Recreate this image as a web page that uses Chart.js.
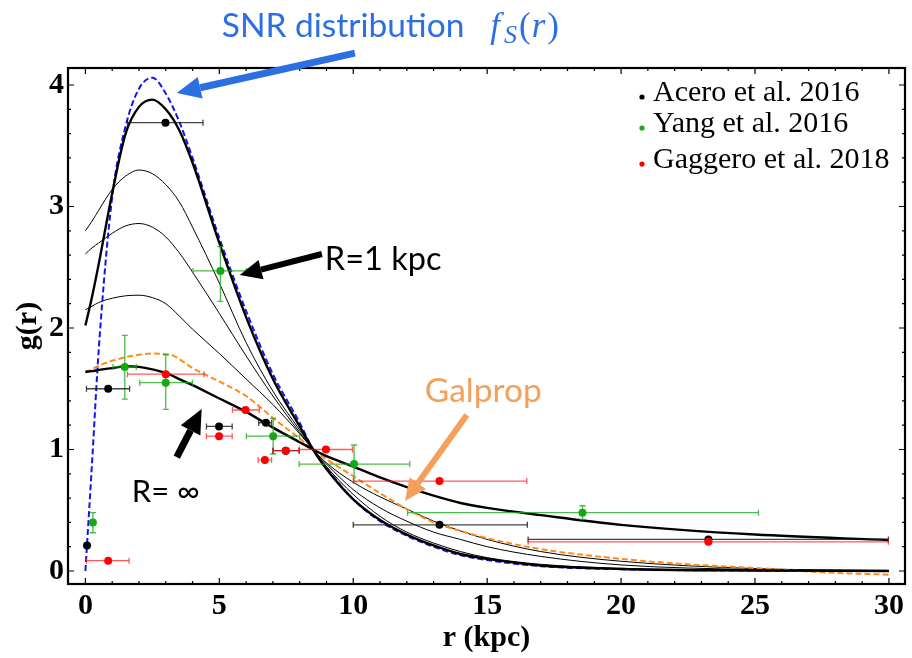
<!DOCTYPE html>
<html>
<head>
<meta charset="utf-8">
<script src="https://cdn.jsdelivr.net/npm/chart.js@4.4.1/dist/chart.umd.min.js"></script>
<style>
  html, body { margin: 0; padding: 0; background: #fff; }
  #caja { width: 912px; height: 658px; }
</style>
</head>
<body>
<div id="caja"><canvas id="grafica"></canvas></div>
<script>
// ---- datos ----
const xTicks = [0, 5, 10, 15, 20, 25, 30];
const yTicks = [0, 1, 2, 3, 4];

// radio comun para las curvas g(r)
const rGrid = [0, 0.25, 0.5, 1, 1.5, 2, 2.5, 3, 3.5, 4, 5, 6, 7, 8, 8.5, 9, 10, 11, 12, 13, 14, 15, 17, 20, 25, 30];
const gSnr   = [0, 0.9, 1.83, 3.08, 3.66, 3.97, 4.06, 3.93, 3.70, 3.40, 2.74, 2.14, 1.62, 1.22, 1.0, 0.85, 0.59, 0.41, 0.29, 0.2, 0.13, 0.09, 0.04, 0.015, 0.003, 0];
const gR1    = [2.02, 2.26, 2.53, 3.11, 3.60, 3.82, 3.88, 3.80, 3.63, 3.36, 2.70, 2.09, 1.58, 1.19, 1.0, 0.84, 0.59, 0.42, 0.30, 0.21, 0.14, 0.10, 0.045, 0.017, 0.004, 0];
const gThinA = [2.80, 2.88, 2.97, 3.14, 3.25, 3.30, 3.27, 3.18, 3.04, 2.83, 2.37, 1.88, 1.48, 1.16, 1.0, 0.86, 0.63, 0.45, 0.32, 0.23, 0.16, 0.11, 0.055, 0.022, 0.006, 0.001];
const gThinB = [2.61, 2.66, 2.70, 2.78, 2.84, 2.86, 2.83, 2.75, 2.62, 2.46, 2.12, 1.77, 1.44, 1.14, 1.0, 0.88, 0.67, 0.52, 0.41, 0.32, 0.26, 0.20, 0.12, 0.05, 0.012, 0.003];
const gThinC = [2.15, 2.18, 2.21, 2.245, 2.265, 2.27, 2.25, 2.20, 2.10, 1.99, 1.79, 1.58, 1.37, 1.13, 1.0, 0.89, 0.73, 0.61, 0.51, 0.41, 0.33, 0.26, 0.16, 0.08, 0.02, 0.005];
const gRinf  = [1.64, 1.645, 1.655, 1.67, 1.685, 1.68, 1.66, 1.63, 1.58, 1.53, 1.42, 1.31, 1.18, 1.06, 1.0, 0.945, 0.86, 0.77, 0.69, 0.62, 0.56, 0.52, 0.46, 0.38, 0.30, 0.255];

// Galprop (tiene un quiebre cerca de r=3.3)
const galR = [0, 0.5, 1, 1.5, 2, 2.5, 3, 3.3, 4, 5, 6, 7, 8, 8.5, 9, 10, 11, 12, 13, 14, 15, 17, 20, 22.5, 25, 27.5, 30];
const galG = [1.63, 1.69, 1.73, 1.76, 1.78, 1.79, 1.785, 1.77, 1.67, 1.56, 1.44, 1.26, 1.09, 1.0, 0.92, 0.78, 0.64, 0.51, 0.40, 0.33, 0.27, 0.18, 0.10, 0.055, 0.025, -0.01, -0.03];

// Acero et al. 2016
const aceroR   = [0.06, 0.85, 2.99, 4.99, 6.74, 7.48, 13.22, 23.26];
const aceroG   = [0.21, 1.50, 3.69, 1.19, 1.22, 0.99, 0.38, 0.26];
const aceroRLo = [0.06, 0.04, 1.57, 4.52, 6.47, 7.0, 10.0, 16.53];
const aceroRHi = [0.06, 1.65, 4.39, 5.48, 6.95, 7.98, 16.5, 29.98];

// Yang et al. 2016
const yangR   = [0.28, 1.47, 3.0, 5.04, 7.01, 10.03, 18.56];
const yangG   = [0.40, 1.68, 1.55, 2.47, 1.11, 0.88, 0.48];
const yangRLo = [0.28, 1.03, 2.03, 4.02, 6.01, 7.98, 12.03];
const yangRHi = [0.28, 1.9, 4.0, 6.01, 8.0, 12.11, 25.13];
const yangGLo = [0.315, 1.415, 1.33, 2.22, 0.963, 0.735, 0.425];
const yangGHi = [0.48, 1.94, 1.78, 2.67, 1.257, 1.037, 0.537];

// Gaggero et al. 2018
const gaggR   = [0.85, 3.0, 4.99, 5.98, 6.7, 7.48, 8.98, 13.22, 23.26];
const gaggG   = [0.085, 1.62, 1.11, 1.325, 0.914, 0.99, 1.0, 0.74, 0.24];
const gaggRLo = [0.04, 1.57, 4.52, 5.49, 6.45, 7.0, 7.98, 10.0, 16.53];
const gaggRHi = [1.63, 4.43, 5.48, 6.49, 6.95, 7.98, 9.97, 16.48, 29.98];

const legendLabels = ['Acero et al. 2016', 'Yang et al. 2016', 'Gaggero et al. 2018'];
const legendColors = ['#000000', '#1aa81a', '#ff0000'];

// ---- helpers ----
const pares = (xs, ys) => xs.map((v, i) => ({ x: v, y: ys[i] }));

function curva(ys, color, width, dash, xs) {
    return {
        type: 'line',
        data: pares(xs || rGrid, ys),
        borderColor: color,
        borderWidth: width,
        borderDash: dash || [],
        pointRadius: 0,
        fill: false,
        cubicInterpolationMode: 'monotone'
    };
}

function puntos(label, xs, ys, color, barColor, err) {
    return {
        type: 'scatter',
        label: label,
        data: pares(xs, ys),
        backgroundColor: color,
        borderColor: color,
        pointRadius: 4,
        pointBorderWidth: 0,
        barColor: barColor,
        err: err
    };
}

function flecha(ctx, x0, y0, x1, y1, ancho, largo, cabeza, color) {
    const ang = Math.atan2(y1 - y0, x1 - x0);
    const bx = x1 - Math.cos(ang) * largo, by = y1 - Math.sin(ang) * largo;
    ctx.save();
    ctx.strokeStyle = color; ctx.fillStyle = color;
    ctx.lineWidth = ancho; ctx.lineCap = 'butt';
    ctx.beginPath(); ctx.moveTo(x0, y0); ctx.lineTo(bx, by); ctx.stroke();
    const nx = -Math.sin(ang) * cabeza / 2, ny = Math.cos(ang) * cabeza / 2;
    ctx.beginPath();
    ctx.moveTo(x1, y1);
    ctx.lineTo(bx + nx, by + ny);
    ctx.lineTo(bx - nx, by - ny);
    ctx.closePath(); ctx.fill();
    ctx.restore();
}

// barras de error dibujadas con las escalas del grafico
function barras(chart, ds) {
    const ctx = chart.ctx, sx = chart.scales.x, sy = chart.scales.y;
    const e = ds.err;
    ctx.save();
    ctx.strokeStyle = ds.barColor;
    ctx.lineWidth = 1.3;
    ds.data.forEach((p, i) => {
        const cx = sx.getPixelForValue(p.x), cy = sy.getPixelForValue(p.y);
        if (e.rLo[i] !== e.rHi[i]) {
            const a = sx.getPixelForValue(e.rLo[i]), b = sx.getPixelForValue(e.rHi[i]);
            ctx.beginPath();
            ctx.moveTo(a, cy); ctx.lineTo(b, cy);
            ctx.moveTo(a, cy - 3); ctx.lineTo(a, cy + 3);
            ctx.moveTo(b, cy - 3); ctx.lineTo(b, cy + 3);
            ctx.stroke();
        }
        if (e.gLo && e.gLo[i] !== e.gHi[i]) {
            const a = sy.getPixelForValue(e.gLo[i]), b = sy.getPixelForValue(e.gHi[i]);
            ctx.beginPath();
            ctx.moveTo(cx, a); ctx.lineTo(cx, b);
            ctx.moveTo(cx - 3, a); ctx.lineTo(cx + 3, a);
            ctx.moveTo(cx - 3, b); ctx.lineTo(cx + 3, b);
            ctx.stroke();
        }
    });
    ctx.restore();
}

const adornos = {
    id: 'adornos',
    beforeDatasetDraw(chart, args) {
        const ds = chart.data.datasets[args.index];
        if (ds.err) barras(chart, ds);
    },
    afterDraw(chart) {
        const ctx = chart.ctx, a = chart.chartArea;
        const sx = chart.scales.x, sy = chart.scales.y;
        const X = v => sx.getPixelForValue(v), Y = v => sy.getPixelForValue(v);

        // marco y marcas hacia dentro
        ctx.save();
        ctx.strokeStyle = '#000';
        ctx.lineWidth = 1.2;
        ctx.beginPath();
        for (let k = 0; k <= 30; k++) {
            const p = X(k), l = k % 5 === 0 ? 6 : 3;
            ctx.moveTo(p, a.bottom); ctx.lineTo(p, a.bottom - l);
            ctx.moveTo(p, a.top); ctx.lineTo(p, a.top + l);
        }
        for (let k = 0; k <= 20; k++) {
            const p = Y(k * 0.2), l = k % 5 === 0 ? 6 : 3;
            ctx.moveTo(a.left, p); ctx.lineTo(a.left + l, p);
            ctx.moveTo(a.right, p); ctx.lineTo(a.right - l, p);
        }
        ctx.stroke();
        ctx.lineWidth = 2.2;
        ctx.strokeRect(a.left, a.top, a.right - a.left, a.bottom - a.top);
        ctx.restore();

        // leyenda
        ctx.save();
        ctx.font = '30px "Liberation Serif"';
        ctx.textBaseline = 'alphabetic';
        const filas = [29, 60, 96];
        legendLabels.forEach((t, i) => {
            ctx.fillStyle = legendColors[i];
            ctx.beginPath();
            ctx.arc(a.left + 574, a.top + filas[i], 2.6, 0, Math.PI * 2);
            ctx.fill();
            ctx.fillStyle = '#000';
            ctx.fillText(t, a.left + 585, a.top + filas[i] + 4);
        });
        ctx.restore();

        // anotaciones (posiciones en unidades de datos)
        ctx.save();
        ctx.textBaseline = 'alphabetic';
        const azul = '#2b6fe3', naranja = '#f5a05a';
        ctx.fillStyle = azul;
        ctx.font = '33.5px Lato';
        let tx = X(5.09);
        const ty = Y(4.395);
        ctx.fillText('SNR distribution', tx, ty);
        tx += ctx.measureText('SNR distribution').width + 26;
        ctx.font = 'italic 35px "Liberation Serif"';
        ctx.fillText('f', tx, ty);
        tx += ctx.measureText('f').width + 4;
        ctx.font = 'italic 26px "Liberation Serif"';
        ctx.fillText('S', tx, ty + 6);
        tx += ctx.measureText('S').width + 2;
        ctx.font = '35px "Liberation Serif"';
        ctx.fillText('(', tx, ty);
        tx += ctx.measureText('(').width + 1;
        ctx.font = 'italic 35px "Liberation Serif"';
        ctx.fillText('r', tx, ty);
        tx += ctx.measureText('r').width + 2;
        ctx.font = '35px "Liberation Serif"';
        ctx.fillText(')', tx, ty);
        flecha(ctx, X(10.06), Y(4.263), X(3.41), Y(3.934), 7, 24, 22, azul);

        ctx.fillStyle = '#000';
        ctx.font = '32.5px Lato';
        ctx.fillText('R=1 kpc', X(8.94), Y(2.477));
        flecha(ctx, X(8.83), Y(2.609), X(5.76), Y(2.436), 6, 22, 20, '#000');

        ctx.font = '31px Lato';
        ctx.fillText('R= \u221E', X(1.73), Y(0.568));
        flecha(ctx, X(3.41), Y(0.938), X(4.34), Y(1.333), 7, 24, 22, '#000');

        ctx.fillStyle = naranja;
        ctx.font = '33.5px Lato';
        ctx.fillText('Galprop', X(12.67), Y(1.391));
        flecha(ctx, X(14.24), Y(1.284), X(11.93), Y(0.576), 6, 22, 20, naranja);
        ctx.restore();
    }
};

const fuenteEje = { family: '"Liberation Serif"', size: 30, weight: 'bold' };

new Chart(document.getElementById('grafica'), {
    data: {
        datasets: [
            puntos(legendLabels[2], gaggR, gaggG, '#ff0000', 'rgba(255,20,20,0.7)', { rLo: gaggRLo, rHi: gaggRHi }),
            puntos(legendLabels[0], aceroR, aceroG, '#000000', 'rgba(20,20,20,0.8)', { rLo: aceroRLo, rHi: aceroRHi }),
            puntos(legendLabels[1], yangR, yangG, '#14a814', 'rgba(30,170,30,0.8)', { rLo: yangRLo, rHi: yangRHi, gLo: yangGLo, gHi: yangGHi }),
            curva(gR1, '#000', 2.4),
            curva(gRinf, '#000', 2.4),
            curva(galG, '#ff8c1a', 2, [6, 3], galR),
            curva(gSnr, '#1414f0', 2, [6, 3]),
            curva(gThinA, '#000', 1),
            curva(gThinB, '#000', 1),
            curva(gThinC, '#000', 1)
        ]
    },
    options: {
        responsive: true,
        maintainAspectRatio: false,
        animation: false,
        devicePixelRatio: 1,
        layout: { padding: { top: 68, right: 7, left: 0, bottom: 0 } },
        plugins: { legend: { display: false }, tooltip: { enabled: false } },
        scales: {
            x: {
                type: 'linear',
                min: -0.65, max: 30.6,
                afterBuildTicks: s => { s.ticks = xTicks.map(v => ({ value: v })); },
                afterFit: s => { s.height = 74; },
                grid: { display: false, drawTicks: false },
                border: { display: false },
                ticks: { font: fuenteEje, color: '#000', padding: 4, maxRotation: 0, autoSkip: false },
                title: { display: true, text: 'r (kpc)', font: fuenteEje, color: '#000', padding: { top: 0, bottom: 2 } }
            },
            y: {
                type: 'linear',
                min: -0.107, max: 4.14,
                afterBuildTicks: s => { s.ticks = yTicks.map(v => ({ value: v })); },
                afterFit: s => { s.width = 68; },
                grid: { display: false, drawTicks: false },
                border: { display: false },
                ticks: { font: fuenteEje, color: '#000', padding: 4, autoSkip: false },
                title: { display: true, text: 'g(r)', font: fuenteEje, color: '#000', padding: { top: 10, bottom: 0 } }
            }
        }
    },
    plugins: [adornos]
});
</script>
</body>
</html>
